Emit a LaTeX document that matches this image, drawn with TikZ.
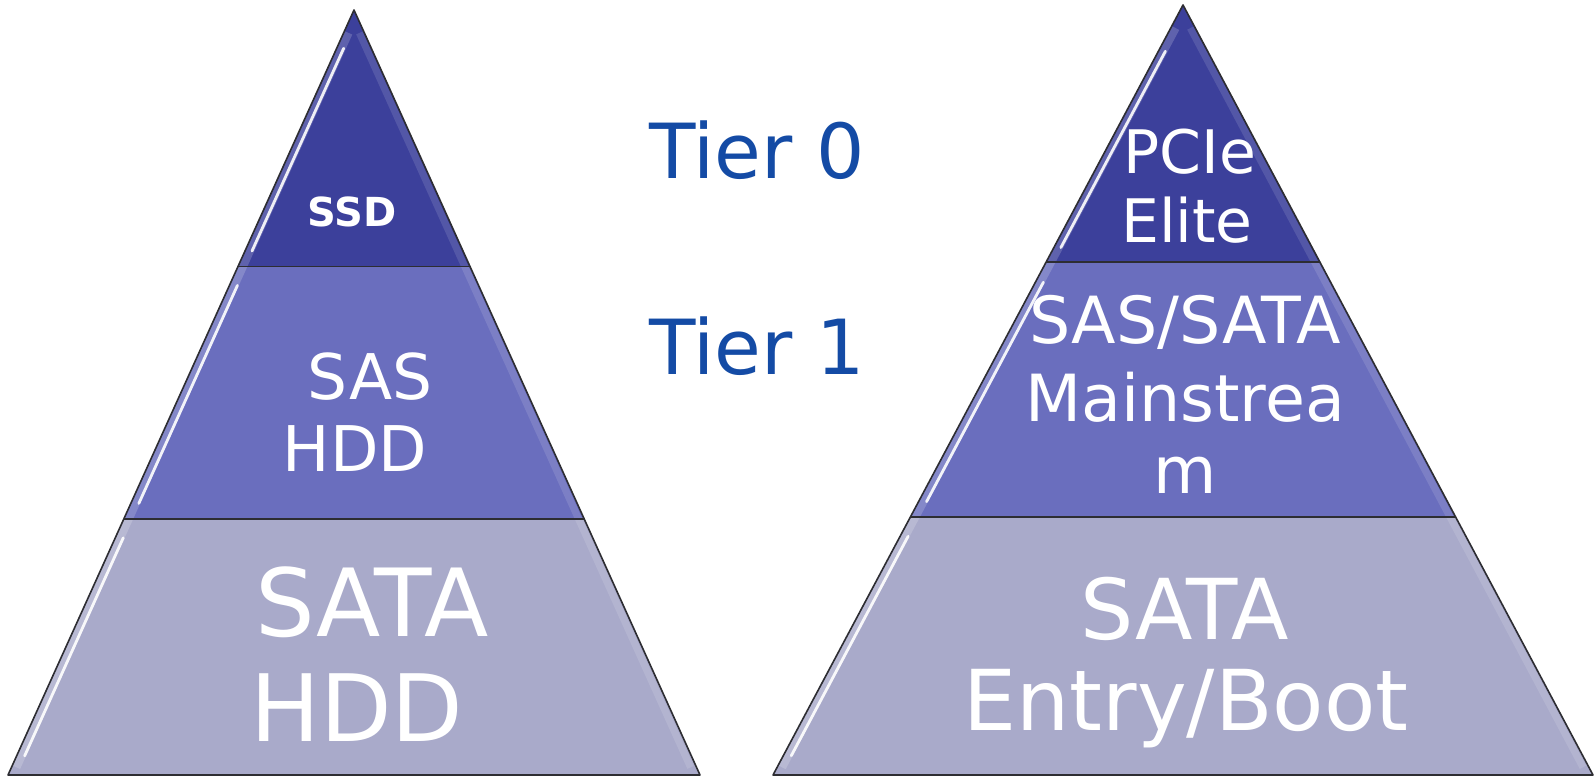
\documentclass[tikz,border=0pt]{standalone}
\usepackage{fontspec}
\setmainfont{DejaVu Sans}
\usetikzlibrary{calc}
\definecolor{tierA}{RGB}{60,64,155}
\definecolor{tierB}{RGB}{106,110,190}
\definecolor{tierC}{RGB}{169,170,202}
\definecolor{edgecol}{RGB}{45,45,50}
\definecolor{tierblue}{RGB}{20,75,165}
\newcommand{\fs}[1]{\fontsize{#1}{#1}\selectfont}
\begin{document}
\begin{tikzpicture}[x=1pt,y=-1pt,
 lbl/.style={text=white, inner sep=0pt, anchor=base},
 tierlbl/.style={text=tierblue, inner sep=0pt, anchor=base west, font=\fs{76}},
 outline/.style={draw=edgecol, line width=1.6pt, line join=round},
 divline/.style={draw=edgecol, line width=1.4pt},
 shine/.style={white, line width=2.8pt, opacity=.9, line cap=round},
 glow/.style={white, line width=8pt, opacity=.18},
 rshine/.style={white, line width=7pt, opacity=.12},
 ]
\useasboundingbox (0,0) rectangle (1595,779);

% ---------- left pyramid ----------
\coordinate (LA) at (354,10);
\coordinate (LL) at (8,775);
\coordinate (LR) at (700,775);
\coordinate (L1l) at ($(LA)!0.3353!(LL)$);
\coordinate (L1r) at ($(LA)!0.3353!(LR)$);
\coordinate (L2l) at ($(LA)!0.6654!(LL)$);
\coordinate (L2r) at ($(LA)!0.6654!(LR)$);
\fill[tierA] (LA) -- (L1r) -- (L1l) -- cycle;
\fill[tierB] (L1l) -- (L1r) -- (L2r) -- (L2l) -- cycle;
\fill[tierC] (L2l) -- (L2r) -- (LR) -- (LL) -- cycle;
% gloss
\draw[rshine] ($(LA)!0.03!(LR)+(-5,0)$) -- ($(LA)!0.99!(LR)+(-6,0)$);
\draw[glow] ($(LA)!0.03!(LL)+(5,0)$) -- ($(LA)!0.99!(LL)+(5,0)$);
\draw[shine] ($(LA)!0.05!(LL)+(7,0)$) -- ($(LA)!0.315!(LL)+(7,0)$);
\draw[shine] ($(LA)!0.36!(LL)+(8,0)$) -- ($(LA)!0.645!(LL)+(8,0)$);
\draw[shine] ($(LA)!0.69!(LL)+(8,0)$) -- ($(LA)!0.975!(LL)+(8,0)$);
\draw[divline] (L1l) -- (L1r);
\draw[divline] (L2l) -- (L2r);
\draw[outline] (LA) -- (LR) -- (LL) -- cycle;

\node[lbl, font=\bfseries\fs{40}] (ssd) at (352,226) {SSD};
\node[lbl, font=\fs{63}] (sas) at (370,399) {SAS};
\node[lbl, font=\fs{63}] (sashdd) at (355,471) {HDD};
\node[lbl, font=\fs{94}] (sata) at (372,636) {SATA};
\node[lbl, font=\fs{93}] (satahdd) at (357,741) {HDD};

% ---------- tier labels ----------
\node[tierlbl] (tier0) at (649,178) {Tier 0};
\node[tierlbl] (tier1) at (649,374) {Tier 1};

% ---------- right pyramid ----------
\coordinate (RA) at (1183,5);
\coordinate (RL) at (773,775);
\coordinate (RR) at (1593,775);
\coordinate (R1l) at ($(RA)!0.3338!(RL)$);
\coordinate (R1r) at ($(RA)!0.3338!(RR)$);
\coordinate (R2l) at ($(RA)!0.665!(RL)$);
\coordinate (R2r) at ($(RA)!0.665!(RR)$);
\fill[tierA] (RA) -- (R1r) -- (R1l) -- cycle;
\fill[tierB] (R1l) -- (R1r) -- (R2r) -- (R2l) -- cycle;
\fill[tierC] (R2l) -- (R2r) -- (RR) -- (RL) -- cycle;
\draw[rshine] ($(RA)!0.03!(RR)+(-5,0)$) -- ($(RA)!0.99!(RR)+(-6,0)$);
\draw[glow] ($(RA)!0.03!(RL)+(5,0)$) -- ($(RA)!0.99!(RL)+(5,0)$);
\draw[shine] ($(RA)!0.06!(RL)+(7,0)$) -- ($(RA)!0.315!(RL)+(7,0)$);
\draw[shine] ($(RA)!0.36!(RL)+(8,0)$) -- ($(RA)!0.645!(RL)+(8,0)$);
\draw[shine] ($(RA)!0.69!(RL)+(8,0)$) -- ($(RA)!0.975!(RL)+(8,0)$);
\draw[divline] (R1l) -- (R1r);
\draw[divline] (R2l) -- (R2r);
\draw[outline] (RA) -- (RR) -- (RL) -- cycle;

\node[lbl, font=\fs{60}] (pcie) at (1190,173) {PCIe};
\node[lbl, font=\fs{60}] (elite) at (1187,242) {Elite};
\node[lbl, font=\fs{65}] (sassata) at (1185,343) {SAS/SATA};
\node[lbl, font=\fs{65}] (mainA) at (1185,421) {Mainstrea};
\node[lbl, font=\fs{65}] (mainB) at (1185,493) {m};
\node[lbl, font=\fs{84}] (sata2) at (1185,639) {SATA};
\node[lbl, font=\fs{84}] (entry) at (1186,730) {Entry/Boot};
\end{tikzpicture}
\end{document}
